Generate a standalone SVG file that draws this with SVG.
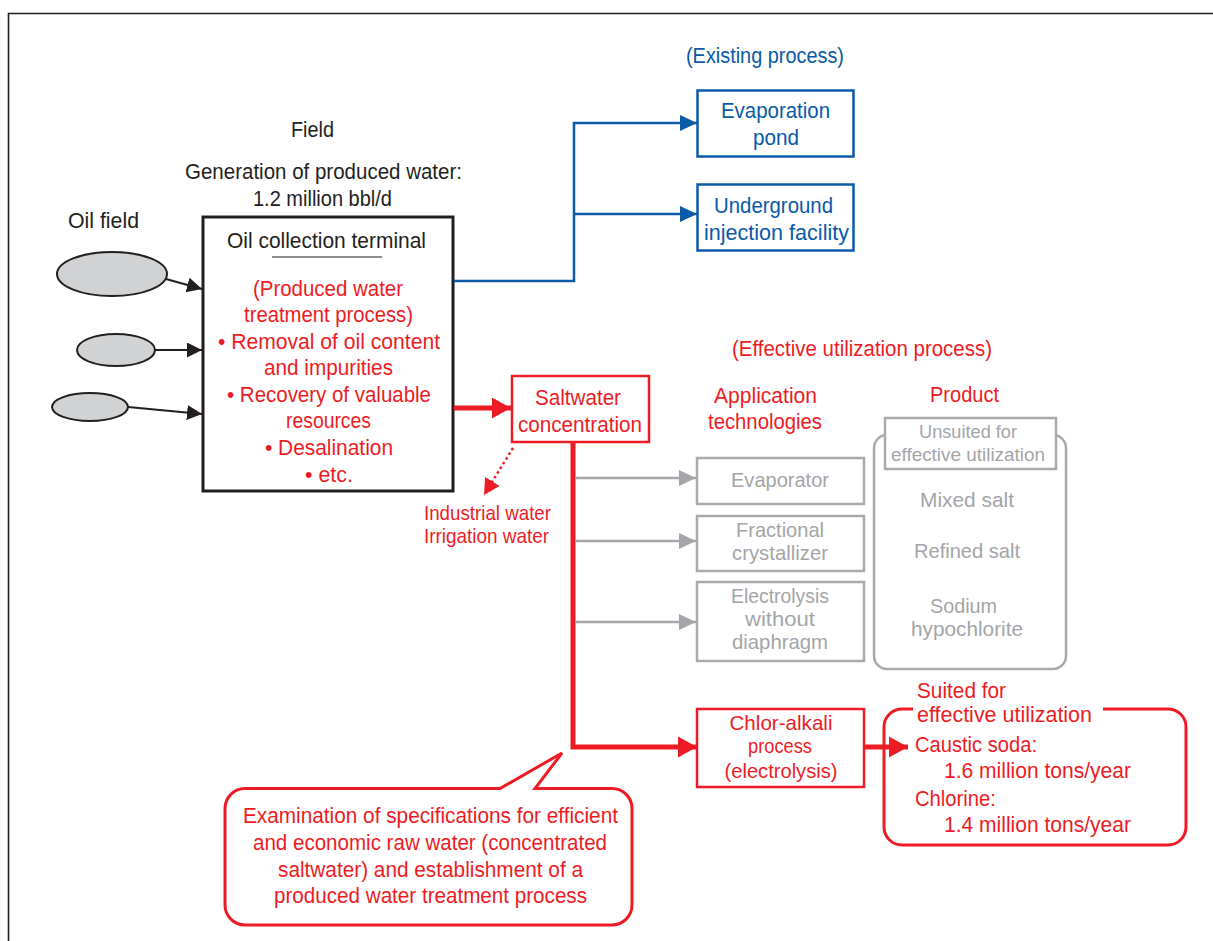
<svg xmlns="http://www.w3.org/2000/svg" width="1213" height="941" viewBox="0 0 1213 941">
<style>
text{font-family:"Liberation Sans",Arial,sans-serif;font-size:22px;text-anchor:middle}
.k{fill:#231f20}
.r{fill:#ed1c24}
.b{fill:#0a5aa8}
.g{fill:#a3a5a8}
.m{font-size:21px}
.s{font-size:18.5px}
.l{text-anchor:start}
.bx{fill:#fff;stroke-width:2.5}
</style>
<defs>
<marker id="ab" markerUnits="userSpaceOnUse" markerWidth="18" markerHeight="18" refX="17" refY="8" orient="auto"><path d="M0,0 L17,8 L0,16 z" fill="#0a5aa8"/></marker>
<marker id="ag" markerUnits="userSpaceOnUse" markerWidth="18" markerHeight="18" refX="17" refY="8" orient="auto"><path d="M0,0 L17,8 L0,16 z" fill="#a3a5a8"/></marker>
<marker id="ar" markerUnits="userSpaceOnUse" markerWidth="20" markerHeight="22" refX="19" refY="10.5" orient="auto"><path d="M0,0 L19,10.5 L0,21 z" fill="#ed1c24"/></marker>
<marker id="ard" markerUnits="userSpaceOnUse" markerWidth="17" markerHeight="18" refX="16" refY="8.5" orient="auto"><path d="M0,0 L16,8.5 L0,17 z" fill="#ed1c24"/></marker>
<marker id="ak" markerUnits="userSpaceOnUse" markerWidth="16" markerHeight="16" refX="15" refY="7.5" orient="auto"><path d="M0,0 L15,7.5 L0,15 z" fill="#231f20"/></marker>
</defs>
<rect width="1213" height="941" fill="#fff"/>
<path d="M8.5,941 V13.5 H1213" fill="none" stroke="#231f20" stroke-width="1.6"/>

<g id="labels">
<text class="b" x="765" y="63" textLength="158" lengthAdjust="spacingAndGlyphs">(Existing process)</text>
<text class="k" x="312.5" y="137" textLength="43" lengthAdjust="spacingAndGlyphs">Field</text>
<text class="k" x="323.5" y="179" textLength="277" lengthAdjust="spacingAndGlyphs">Generation of produced water:</text>
<text class="k" x="322.5" y="206" textLength="139" lengthAdjust="spacingAndGlyphs">1.2 million bbl/d</text>
<text class="k" x="103.5" y="228" textLength="71" lengthAdjust="spacingAndGlyphs">Oil field</text>
<text class="r" x="862" y="356" textLength="260" lengthAdjust="spacingAndGlyphs">(Effective utilization process)</text>
<text class="r" x="765.5" y="403" textLength="103" lengthAdjust="spacingAndGlyphs">Application</text>
<text class="r" x="765" y="429" textLength="114" lengthAdjust="spacingAndGlyphs">technologies</text>
<text class="r" x="964.5" y="402" textLength="69" lengthAdjust="spacingAndGlyphs">Product</text>
<text class="r m" x="487.5" y="520" textLength="127" lengthAdjust="spacingAndGlyphs">Industrial water</text>
<text class="r m" x="486.5" y="543" textLength="125" lengthAdjust="spacingAndGlyphs">Irrigation water</text>
</g>

<g id="oilfield1"><ellipse cx="112" cy="274" rx="55" ry="22" fill="#d1d2d4" stroke="#231f20" stroke-width="2"/></g>
<g id="oilfield2"><ellipse cx="116" cy="350" rx="39" ry="16" fill="#d1d2d4" stroke="#231f20" stroke-width="2"/></g>
<g id="oilfield3"><ellipse cx="90" cy="407" rx="38" ry="14" fill="#d1d2d4" stroke="#231f20" stroke-width="2"/></g>

<g id="terminal">
<rect x="203" y="217" width="250" height="274" fill="#fff" stroke="#231f20" stroke-width="3"/>
<text class="k" x="326.5" y="248" textLength="199" lengthAdjust="spacingAndGlyphs">Oil collection terminal</text>
<line x1="272" y1="257" x2="382" y2="257" stroke="#231f20" stroke-width="1.2"/>
<text class="r" x="328" y="296" textLength="150" lengthAdjust="spacingAndGlyphs">(Produced water</text>
<text class="r" x="328.5" y="322" textLength="169" lengthAdjust="spacingAndGlyphs">treatment process)</text>
<text class="r" x="329" y="349" textLength="222" lengthAdjust="spacingAndGlyphs">• Removal of oil content</text>
<text class="r" x="328.5" y="375" textLength="129" lengthAdjust="spacingAndGlyphs">and impurities</text>
<text class="r" x="329" y="402" textLength="204" lengthAdjust="spacingAndGlyphs">• Recovery of valuable</text>
<text class="r" x="328.5" y="428" textLength="85" lengthAdjust="spacingAndGlyphs">resources</text>
<text class="r" x="329" y="455" textLength="128" lengthAdjust="spacingAndGlyphs">• Desalination</text>
<text class="r" x="329" y="482" textLength="48" lengthAdjust="spacingAndGlyphs">• etc.</text>
</g>

<g id="evaporation-pond">
<rect class="bx" x="697.5" y="90.5" width="156" height="66" stroke="#0a5aa8"/>
<text class="b" x="775.5" y="118" textLength="109" lengthAdjust="spacingAndGlyphs">Evaporation</text>
<text class="b" x="776" y="145" textLength="46" lengthAdjust="spacingAndGlyphs">pond</text>
</g>
<g id="underground-injection">
<rect class="bx" x="697.5" y="184.5" width="156" height="66" stroke="#0a5aa8"/>
<text class="b" x="773.5" y="213" textLength="119" lengthAdjust="spacingAndGlyphs">Underground</text>
<text class="b" x="776.5" y="240" textLength="145" lengthAdjust="spacingAndGlyphs">injection facility</text>
</g>

<g id="saltwater">
<rect class="bx" x="512" y="376" width="137" height="66" stroke="#ed1c24"/>
<text class="r" x="578" y="405" textLength="86" lengthAdjust="spacingAndGlyphs">Saltwater</text>
<text class="r" x="580" y="432" textLength="124" lengthAdjust="spacingAndGlyphs">concentration</text>
</g>

<g id="evaporator">
<rect class="bx" x="697" y="458" width="167" height="46" stroke="#a8aaad"/>
<text class="g m" x="780" y="487" textLength="98" lengthAdjust="spacingAndGlyphs">Evaporator</text>
</g>
<g id="fractional-crystallizer">
<rect class="bx" x="697" y="516" width="167" height="55" stroke="#a8aaad"/>
<text class="g m" x="780" y="537" textLength="88" lengthAdjust="spacingAndGlyphs">Fractional</text>
<text class="g m" x="780" y="560" textLength="96" lengthAdjust="spacingAndGlyphs">crystallizer</text>
</g>
<g id="electrolysis-without-diaphragm">
<rect class="bx" x="697" y="582" width="167" height="79" stroke="#a8aaad"/>
<text class="g m" x="780" y="603" textLength="98" lengthAdjust="spacingAndGlyphs">Electrolysis</text>
<text class="g m" x="780" y="626" textLength="70" lengthAdjust="spacingAndGlyphs">without</text>
<text class="g m" x="780" y="649" textLength="96" lengthAdjust="spacingAndGlyphs">diaphragm</text>
</g>

<g id="products-unsuited">
<rect class="bx" x="874" y="435" width="192" height="234" rx="13" stroke="#a8aaad"/>
<rect class="bx" x="885" y="418" width="171" height="51" stroke="#a8aaad"/>
<text class="g s" x="968" y="438" textLength="98" lengthAdjust="spacingAndGlyphs">Unsuited for</text>
<text class="g s" x="968" y="461" textLength="154" lengthAdjust="spacingAndGlyphs">effective utilization</text>
<text class="g m" x="967" y="507" textLength="94" lengthAdjust="spacingAndGlyphs">Mixed salt</text>
<text class="g m" x="967" y="558" textLength="106" lengthAdjust="spacingAndGlyphs">Refined salt</text>
<text class="g m" x="963.5" y="613" textLength="67" lengthAdjust="spacingAndGlyphs">Sodium</text>
<text class="g m" x="967" y="636" textLength="112" lengthAdjust="spacingAndGlyphs">hypochlorite</text>
</g>

<g id="chlor-alkali">
<rect class="bx" x="697" y="709" width="167" height="78" stroke="#ed1c24"/>
<text class="r m" x="781" y="730" textLength="103" lengthAdjust="spacingAndGlyphs">Chlor-alkali</text>
<text class="r m" x="780" y="753" textLength="64" lengthAdjust="spacingAndGlyphs">process</text>
<text class="r m" x="781" y="778" textLength="113" lengthAdjust="spacingAndGlyphs">(electrolysis)</text>
</g>

<g id="products-suited">
<path d="M1103,709 H1168 A18,18 0 0 1 1186,727 V827 A18,18 0 0 1 1168,845 H902 A18,18 0 0 1 884,827 V727 A18,18 0 0 1 902,709 H913" fill="#fff" stroke="#ed1c24" stroke-width="3"/>
<text class="r l" x="917" y="698" textLength="89" lengthAdjust="spacingAndGlyphs">Suited for</text>
<text class="r l" x="917" y="722" textLength="175" lengthAdjust="spacingAndGlyphs">effective utilization</text>
<text class="r l" x="915" y="752" textLength="122" lengthAdjust="spacingAndGlyphs">Caustic soda:</text>
<text class="r l" x="944" y="778" textLength="187" lengthAdjust="spacingAndGlyphs">1.6 million tons/year</text>
<text class="r l" x="915" y="806" textLength="81" lengthAdjust="spacingAndGlyphs">Chlorine:</text>
<text class="r l" x="944" y="832" textLength="187" lengthAdjust="spacingAndGlyphs">1.4 million tons/year</text>
</g>

<g id="callout">
<path d="M245,788.5 H500 L562,753 L535,788.5 H612 A20,20 0 0 1 632,808.5 V905 A20,20 0 0 1 612,925 H245 A20,20 0 0 1 225,905 V808.5 A20,20 0 0 1 245,788.5 Z" fill="#fff" stroke="#ed1c24" stroke-width="3"/>
<text class="r" x="430.5" y="823" textLength="375" lengthAdjust="spacingAndGlyphs">Examination of specifications for efficient</text>
<text class="r" x="430" y="850" textLength="354" lengthAdjust="spacingAndGlyphs">and economic raw water (concentrated</text>
<text class="r" x="430.5" y="877" textLength="305" lengthAdjust="spacingAndGlyphs">saltwater) and establishment of a</text>
<text class="r" x="430.5" y="903" textLength="313" lengthAdjust="spacingAndGlyphs">produced water treatment process</text>
</g>

<g id="connectors" fill="none">
<line x1="166" y1="279" x2="202" y2="289" stroke="#231f20" stroke-width="2" marker-end="url(#ak)"/>
<line x1="155" y1="350" x2="202" y2="350" stroke="#231f20" stroke-width="2" marker-end="url(#ak)"/>
<line x1="128" y1="407" x2="202" y2="414" stroke="#231f20" stroke-width="2" marker-end="url(#ak)"/>
<polyline points="454,281 574,281 574,123 697,123" stroke="#0a5aa8" stroke-width="2.5" marker-end="url(#ab)"/>
<line x1="574" y1="214" x2="697" y2="214" stroke="#0a5aa8" stroke-width="2.5" marker-end="url(#ab)"/>
<line x1="454" y1="408" x2="511" y2="408" stroke="#ed1c24" stroke-width="5" marker-end="url(#ar)"/>
<line x1="513" y1="448" x2="484" y2="495" stroke="#ed1c24" stroke-width="2.5" stroke-dasharray="2.5,3" marker-end="url(#ard)"/>
<polyline points="573,443 573,747 697,747" stroke="#ed1c24" stroke-width="5" marker-end="url(#ar)"/>
<line x1="575" y1="478" x2="696" y2="478" stroke="#a3a5a8" stroke-width="2.5" marker-end="url(#ag)"/>
<line x1="575" y1="541" x2="696" y2="541" stroke="#a3a5a8" stroke-width="2.5" marker-end="url(#ag)"/>
<line x1="575" y1="622" x2="696" y2="622" stroke="#a3a5a8" stroke-width="2.5" marker-end="url(#ag)"/>
<line x1="865" y1="747" x2="908" y2="747" stroke="#ed1c24" stroke-width="5" marker-end="url(#ar)"/>
</g>
</svg>
